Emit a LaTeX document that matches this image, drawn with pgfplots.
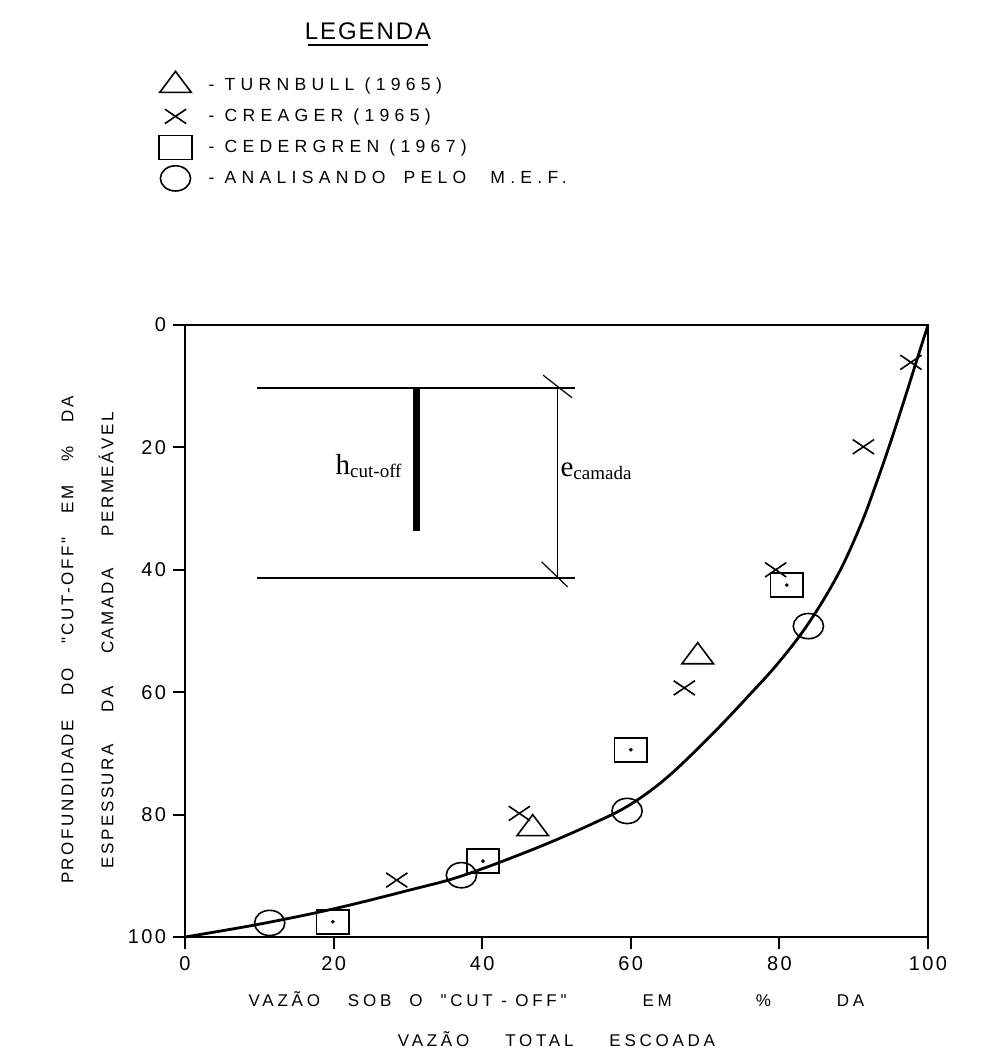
\documentclass[border=0pt]{standalone}
\usepackage{fontspec}
\setmainfont{Liberation Sans}
\newfontfamily\tickfont[LetterSpace=12]{Liberation Sans}
\newfontfamily\labfont[LetterSpace=22]{Liberation Sans}
\newfontfamily\ylabfont[LetterSpace=15]{Liberation Sans}
\newfontfamily\legfont[LetterSpace=30]{Liberation Sans}
\newfontfamily\titfont[LetterSpace=8]{Liberation Sans}
\newfontfamily\serif{Liberation Serif}
\usepackage{pgfplots}
\pgfplotsset{compat=1.18}
\begin{document}
\begin{tikzpicture}
\begin{axis}[
  width=371.5pt, height=306pt, scale only axis,
  xmin=0, xmax=100, ymin=0, ymax=100, y dir=reverse,
  xtick={0,20,40,60,80,100}, ytick={0,20,40,60,80,100},
  tick align=outside, xtick pos=left, ytick pos=left,
  major tick length=6pt,
  axis line style={line width=1pt},
  every tick/.style={black, line width=1pt},
  /pgf/number format/assume math mode=true,
  ticklabel style={font=\tickfont\fontsize{10}{12}\selectfont},
  clip=false,
  xlabel={VAZÃO\hspace{14pt}SOB\hspace{9pt}O\hspace{9pt}"CUT - OFF"\hspace{38pt}EM\hspace{42pt}\%\hspace{33pt}DA\\VAZÃO\hspace{18pt}TOTAL\hspace{18pt}ESCOADA},
  xlabel style={at={(axis description cs:0.5,-0.088)}, anchor=north, inner sep=0pt, align=center, font=\labfont\fontsize{8.5}{20}\selectfont},
  ylabel={PROFUNDIDADE\hspace{12pt}DO\hspace{12pt}"CUT-OFF"\hspace{12pt}EM\hspace{12pt}\%\hspace{12pt}DA\\ESPESSURA\hspace{16pt}DA\hspace{16pt}CAMADA\hspace{16pt}PERMEÁVEL},
  ylabel style={at={(axis description cs:-0.0955,0.485)}, anchor=south, inner sep=0pt, align=center, font=\ylabfont\fontsize{8.5}{20}\selectfont},
  legend style={at={(axis description cs:-0.0363,1.4175)}, anchor=north west, draw=none, fill=none, inner sep=0pt, row sep=0pt,
    font=\legfont\fontsize{8.8}{10}\selectfont, nodes={inner sep=0pt}},
  legend cell align=left,
  legend image code/.code={\path[draw=none,fill=none] (0cm,-7.75pt) rectangle (0.6cm,7.75pt);
    \draw[#1,mark repeat=2,mark phase=2] plot coordinates {(0cm,0cm) (0.3cm,0cm) (0.6cm,0cm)};},
]
% analytical curve (M.E.F.)
\addplot[forget plot, black, line width=1.4pt, smooth, tension=0.6] coordinates {
 (0,100) (10,97.9) (20,95.4) (30,92.4) (37.3,90) (47,85.6) (55,81.4) (60,78.3)
 (65,73.8) (71,66.8) (76,60.4) (80,55) (84,48.6) (88,40.5) (91,32.5) (93,26)
 (95,19) (97,11.5) (98.5,5.7) (100,0)};
% Turnbull
\addplot[only marks, mark=triangle, mark size=7pt, mark options={xscale=1.3, line width=0.8pt, black}] coordinates {
 (46.8,82.3) (69,54.2)};
\addlegendentry{\hspace*{8pt}- TURNBULL (1965)}
% Creager
\addplot[only marks, mark=x, mark size=7.5pt, mark options={yscale=0.68, line width=0.8pt, black}] coordinates {
 (28.5,90.7) (45,79.8) (67.2,59.3) (79.5,40) (91.3,19.9) (97.7,6.1)};
\addlegendentry{\hspace*{8pt}- CREAGER (1965)}
% Cedergren
\addplot[only marks, mark=square, mark size=6pt, mark options={xscale=1.35, line width=0.8pt, black}] coordinates {
 (19.9,97.5) (40.1,87.6) (60,69.4) (81,42.5)};
\addlegendentry{\hspace*{8pt}- CEDERGREN (1967)}
% M.E.F.
\addplot[only marks, mark=o, mark size=6.3pt, mark options={xscale=1.2, line width=0.8pt, black}] coordinates {
 (11.4,97.7) (37.2,89.9) (59.5,79.4) (83.9,49.2)};
\addlegendentry{\hspace*{8pt}- ANALISANDO\hspace{9pt}PELO\hspace{12pt}M.E.F.}
% dots in the squares
\addplot[forget plot, only marks, mark=*, mark size=0.7pt, black] coordinates {
 (19.9,97.5) (40.1,87.6) (60,69.4) (81,42.5)};
% inset sketch
\draw[line width=0.75pt] (axis cs:9.7,10.3) -- (axis cs:52.5,10.3);
\draw[line width=0.75pt] (axis cs:9.7,41.3) -- (axis cs:52.5,41.3);
\draw[line width=3.5pt] (axis cs:31.2,10.3) -- (axis cs:31.2,33.7);
\draw[line width=0.6pt] (axis cs:50.1,10.3) -- (axis cs:50.1,41.3);
\draw[line width=0.6pt] (axis cs:48.2,8.2) -- (axis cs:52.1,11.9);
\draw[line width=0.6pt] (axis cs:48.0,38.7) -- (axis cs:51.5,42.8);
\node[anchor=base east, inner sep=0pt, font=\serif\fontsize{14.5}{16}\selectfont] at (axis cs:29.2,24.5)
  {h\raisebox{-1.5pt}{\fontsize{9.5}{11}\selectfont cut-off}};
\node[anchor=base west, inner sep=0pt, font=\serif\fontsize{14.5}{16}\selectfont] at (axis cs:50.5,24.8)
  {e\raisebox{-1.5pt}{\fontsize{9.5}{11}\selectfont camada}};
\end{axis}
% legend title
\node[inner sep=0pt, anchor=base, font=\titfont\fontsize{12}{14}\selectfont] at (91.5pt,448.5pt) {LEGENDA};
\draw[line width=1.1pt] (61.5pt,446pt) -- (121.5pt,446pt);
\pgfresetboundingbox
\path[use as bounding box] (-92.5pt,-58.5pt) rectangle (401pt,468.5pt);
\end{tikzpicture}
\end{document}
